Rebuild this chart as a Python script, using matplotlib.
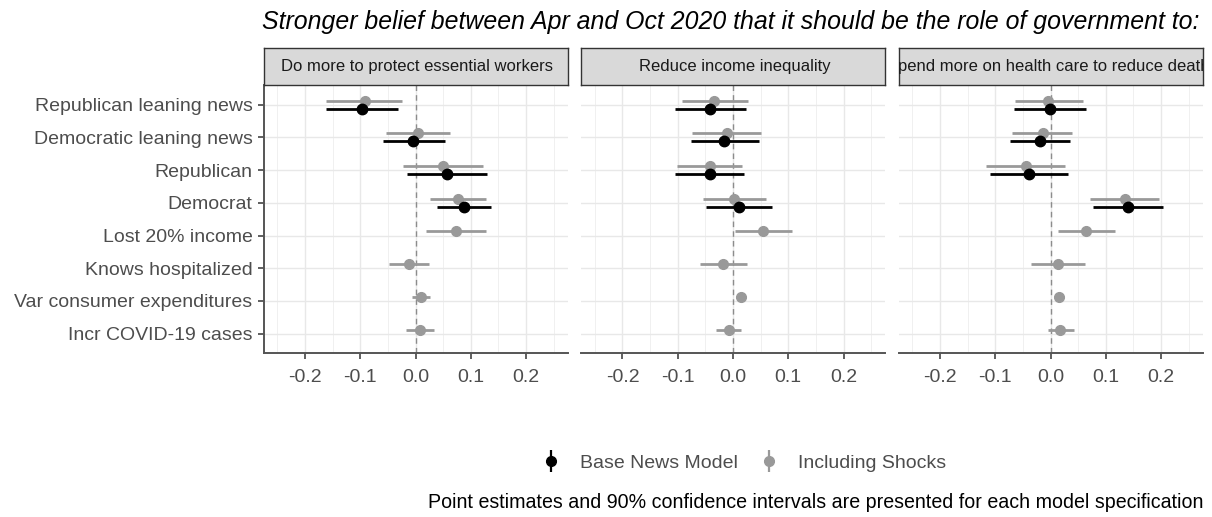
import numpy as np
import matplotlib.pyplot as plt
from matplotlib.lines import Line2D
from matplotlib.legend_handler import HandlerTuple

plt.rcParams['font.family'] = ['Liberation Sans', 'DejaVu Sans']

categories = ["Republican leaning news", "Democratic leaning news", "Republican",
              "Democrat", "Lost 20% income", "Knows hospitalized",
              "Var consumer expenditures", "Incr COVID-19 cases"]
panels = ["Do more to protect essential workers", "Reduce income inequality",
          "Spend more on health care to reduce deaths"]

# base news model: only the first four covariates
base_est = [[-0.097, -0.004, 0.057, 0.087],
            [-0.041, -0.016, -0.042, 0.010],
            [-0.001, -0.019, -0.039, 0.140]]
base_lo = [[-0.162, -0.059, -0.016, 0.038],
           [-0.105, -0.076, -0.105, -0.048],
           [-0.066, -0.073, -0.110, 0.077]]
base_hi = [[-0.032, 0.054, 0.130, 0.136],
           [0.024, 0.047, 0.020, 0.070],
           [0.065, 0.036, 0.031, 0.203]]

# model including shocks: all covariates
shock_est = [[-0.092, 0.005, 0.049, 0.077, 0.074, -0.011, 0.010, 0.008],
             [-0.034, -0.011, -0.042, 0.002, 0.055, -0.018, 0.015, -0.008],
             [-0.004, -0.014, -0.044, 0.134, 0.064, 0.014, 0.016, 0.018]]
shock_lo = [[-0.162, -0.054, -0.023, 0.027, 0.019, -0.048, -0.006, -0.017],
            [-0.093, -0.074, -0.102, -0.054, 0.003, -0.059, 0.010, -0.031],
            [-0.065, -0.069, -0.116, 0.072, 0.013, -0.035, 0.011, -0.005]]
shock_hi = [[-0.024, 0.063, 0.123, 0.127, 0.127, 0.025, 0.027, 0.033],
            [0.028, 0.051, 0.017, 0.060, 0.106, 0.026, 0.019, 0.015],
            [0.059, 0.039, 0.027, 0.197, 0.116, 0.063, 0.021, 0.042]]

xticks = [-0.2, -0.1, 0.0, 0.1, 0.2]

BASE_COL = "#000000"
SHOCK_COL = "#999999"
TXT = "#4d4d4d"

W, H = 1212, 517
fig = plt.figure(figsize=(W / 100, H / 100), dpi=100)

lefts = [263.5, 581, 898.5]
pw = 304
ptop, pbot = 85, 353.3
stop = 48

ncat = len(categories)
ypos = np.arange(ncat, 0, -1)
dodge = 0.125

for k, name in enumerate(panels):
    ax = fig.add_axes([lefts[k] / W, (H - pbot) / H, pw / W, (pbot - ptop) / H])
    ax.set_xlim(-0.275, 0.275)
    ax.set_ylim(0.4, ncat + 0.6)
    ax.set_xticks(xticks)
    ax.set_xticklabels([f"{t:.1f}" for t in xticks])
    ax.set_xticks(np.arange(-0.25, 0.26, 0.1), minor=True)
    ax.set_yticks(ypos)
    ax.grid(True, which='major', color="#e8e8e8", lw=1.0)
    ax.grid(True, which='minor', axis='x', color="#f0f0f0", lw=0.7)
    ax.set_axisbelow(True)
    ax.axvline(0, color="#8c8c8c", lw=1.0, ls=(0, (4, 3)), zorder=1)

    for s in ['top', 'right']:
        ax.spines[s].set_visible(False)
    ax.spines['bottom'].set_color("#555555")
    ax.spines['bottom'].set_linewidth(1.4)
    ax.tick_params(axis='x', which='major', length=4, width=1.2, color="#444444",
                   labelsize=14, labelcolor=TXT, pad=7)
    ax.tick_params(axis='x', which='minor', length=0)
    if k == 0:
        ax.spines['left'].set_color("#555555")
        ax.spines['left'].set_linewidth(1.4)
        ax.set_yticklabels(categories)
        ax.tick_params(axis='y', length=4, width=1.2, color="#444444",
                       labelsize=14, labelcolor=TXT, pad=4)
    else:
        ax.spines['left'].set_visible(False)
        ax.set_yticklabels([])
        ax.tick_params(axis='y', length=0)

    # including shocks (grey), drawn first so base estimates sit on top
    ys = ypos + dodge
    ax.hlines(ys, shock_lo[k], shock_hi[k], color=SHOCK_COL, lw=2.0, zorder=3)
    ax.plot(shock_est[k], ys, 'o', color=SHOCK_COL, ms=7, zorder=4)

    nb = len(base_est[k])
    yb = ypos[:nb] - dodge
    ax.hlines(yb, base_lo[k], base_hi[k], color=BASE_COL, lw=2.0, zorder=5)
    ax.plot(base_est[k], yb, 'o', color=BASE_COL, ms=7.5, zorder=6)

    # facet strip; long labels are clipped to the strip box
    sax = fig.add_axes([lefts[k] / W, (H - ptop) / H, pw / W, (ptop - stop) / H])
    sax.set_facecolor("#d9d9d9")
    sax.set_xticks([])
    sax.set_yticks([])
    for s in sax.spines.values():
        s.set_color("#333333")
        s.set_linewidth(1.0)
    sax.text(0.506, 0.5, name, ha='center', va='center', fontsize=12.0,
             color="#1a1a1a", transform=sax.transAxes, clip_on=True)

fig.text(262 / W, 1 - 22 / H, "Stronger belief between Apr and Oct 2020 that it should be the role of government to:",
         ha='left', va='center', fontsize=17.9, style='italic', color="#000000")

h_base = (Line2D([], [], marker='|', ms=16, mew=1.6, ls='none', color=BASE_COL),
          Line2D([], [], marker='o', ms=7, ls='none', color=BASE_COL))
h_shock = (Line2D([], [], marker='|', ms=16, mew=1.6, ls='none', color=SHOCK_COL),
           Line2D([], [], marker='o', ms=7, ls='none', color=SHOCK_COL))
fig.legend([h_base, h_shock], ["Base News Model", "Including Shocks"],
           handler_map={tuple: HandlerTuple(ndivide=1)},
           loc='center', bbox_to_anchor=(744 / W, 1 - 463 / H), ncol=2,
           frameon=False, fontsize=14, labelcolor=TXT,
           handlelength=1.0, handletextpad=1.0, columnspacing=1.1)

fig.text(1203 / W, 1 - 503 / H,
         "Point estimates and 90% confidence intervals are presented for each model specification",
         ha='right', va='center', fontsize=14.1, color="#000000",
         family=['Liberation Sans Narrow', 'Liberation Sans'])

fig.savefig("out.png", dpi=100)
